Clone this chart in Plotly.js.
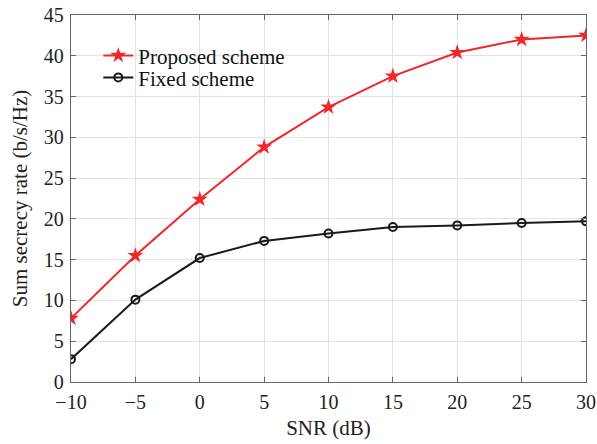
<!DOCTYPE html>
<html><head><meta charset="utf-8">
<script src="https://cdn.plot.ly/plotly-3.0.1.min.js"></script>
<style>html,body{margin:0;padding:0;background:#fff}#c{width:597px;height:444px}</style>
</head><body><div id="c"></div>
<script>
const snr = [-10, -5, 0, 5, 10, 15, 20, 25, 30];
const proposed = [7.8, 15.5, 22.4, 28.8, 33.7, 37.5, 40.4, 42.0, 42.5];
const fixed = [2.8, 10.1, 15.2, 17.3, 18.2, 19.0, 19.2, 19.5, 19.7];
const xTicks = [-10, -5, 0, 5, 10, 15, 20, 25, 30];
const xTickText = ['\u221210', '\u22125', '0', '5', '10', '15', '20', '25', '30'];
const yTicks = [0, 5, 10, 15, 20, 25, 30, 35, 40, 45];

const fam = 'Liberation Serif';
const tickFont = {family: fam, size: 20, color: '#222'};
const titleFont = {family: fam, size: 21, color: '#222'};
const legFont = {family: fam, size: 21, color: '#111'};
const traces = [
  {x: snr, y: proposed, name: 'Proposed scheme', mode: 'lines+markers', legend: 'legend',
   line: {color: '#f0262a', width: 2},
   marker: {symbol: 'star', size: 12, color: '#f0262a', line: {width: 0}}},
  {x: snr, y: fixed, name: 'Fixed scheme', mode: 'lines+markers', legend: 'legend2',
   line: {color: '#1a1a1a', width: 2},
   marker: {symbol: 'circle-open', size: 8, color: '#1a1a1a', line: {width: 2}}}
];
const axisCommon = {
  showline: true, mirror: 'ticks', linecolor: '#666', linewidth: 1.3,
  ticks: 'inside', ticklen: 5, tickcolor: '#666',
  showgrid: true, gridcolor: '#e3e3e3', gridwidth: 1,
  zeroline: false, tickfont: tickFont
};
const legCommon = {xanchor: 'left', yanchor: 'middle', bgcolor: 'rgba(255,255,255,0)',
  font: legFont, itemwidth: 30, borderwidth: 0};
const layout = {
  width: 597, height: 444,
  margin: {l: 71, r: 11, t: 15, b: 62},
  paper_bgcolor: '#fff', plot_bgcolor: '#fff',
  font: tickFont,
  showlegend: true,
  legend: Object.assign({}, legCommon, {x: 0.053, y: 0.889}),
  legend2: Object.assign({}, legCommon, {x: 0.053, y: 0.829}),
  xaxis: Object.assign({}, axisCommon, {
    range: [-10, 30], tickvals: xTicks, ticktext: xTickText, ticklabelstandoff: 2,
    title: {text: 'SNR (dB)', font: titleFont, standoff: 8}
  }),
  yaxis: Object.assign({}, axisCommon, {
    range: [0, 45], tickvals: yTicks, ticklabelstandoff: 2,
    title: {text: 'Sum secrecy rate (b/s/Hz)', font: titleFont, standoff: 10}
  })
};
Plotly.newPlot('c', traces, layout, {displayModeBar: false, staticPlot: true});
</script></body></html>
